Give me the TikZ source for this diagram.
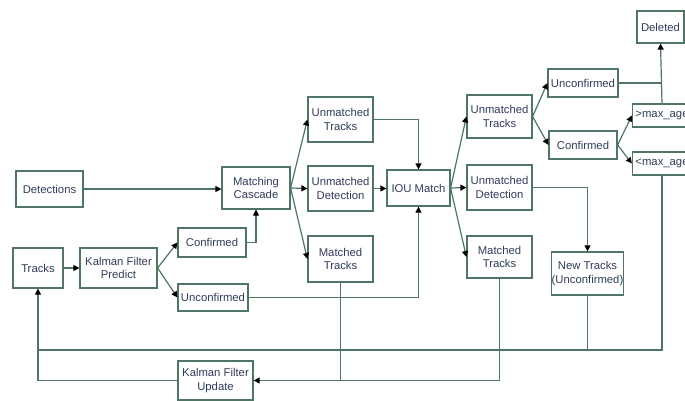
\documentclass[tikz,border=0pt]{standalone}
\usepackage{fontspec}
\setmainfont{Liberation Sans}
\usetikzlibrary{arrows.meta}
\definecolor{edge}{RGB}{78,118,98}
\definecolor{label}{RGB}{48,60,92}
\tikzset{
  box/.style={draw=edge, line width=1.2pt, fill=white, inner sep=0pt,
    align=center, text=label, font=\fontsize{11.3}{13.5}\selectfont},
  link/.style={draw=edge, line width=1.2pt},
  flow/.style={link, -{Triangle[length=6pt,width=6pt,color=black]}},
}
\begin{document}
\begin{tikzpicture}[x=1pt,y=-1pt]
\fill[white] (0,0) rectangle (685,401);
\useasboundingbox (0,0) rectangle (685,401);
\clip (0,0) rectangle (685,401);

% stage 1: prediction and matching cascade
\node[box, minimum width=67pt, minimum height=36pt] (det) at (49.5,189) {Detections};
\node[box, minimum width=50pt, minimum height=40pt] (tracks) at (38,268) {Tracks};
\node[box, minimum width=77pt, minimum height=40pt] (kfp) at (118.5,268) {Kalman Filter\\Predict};
\node[box, minimum width=68pt, minimum height=29pt] (conf1) at (212,242.5) {Confirmed};
\node[box, minimum width=70pt, minimum height=27pt] (unconf1) at (213,297.5) {Unconfirmed};
\node[box, minimum width=68pt, minimum height=42pt] (mc) at (256,188) {Matching\\Cascade};
\node[box, minimum width=65pt, minimum height=45pt] (umt1) at (340.5,119.5) {Unmatched\\Tracks};
\node[box, minimum width=65pt, minimum height=45pt] (umd1) at (340.5,188.5) {Unmatched\\Detection};
\node[box, minimum width=65pt, minimum height=46pt] (mt1) at (340.5,259) {Matched\\Tracks};

% stage 2: IOU matching
\node[box, minimum width=63pt, minimum height=36pt] (iou) at (418.5,188) {IOU Match};
\node[box, minimum width=65pt, minimum height=43pt] (umt2) at (499.5,116.5) {Unmatched\\Tracks};
\node[box, minimum width=65pt, minimum height=45pt] (umd2) at (499.5,187.5) {Unmatched\\Detection};
\node[box, minimum width=65pt, minimum height=42pt] (mt2) at (499.5,257) {Matched\\Tracks};

% track management
\node[box, minimum width=70pt, minimum height=28pt] (unconf2) at (583,83) {Unconfirmed};
\node[box, minimum width=68pt, minimum height=28pt] (conf2) at (583,145) {Confirmed};
\node[box, minimum width=47pt, minimum height=32pt] (del) at (660.5,27) {Deleted};
\node[box, minimum width=59pt, minimum height=23pt] (gt) at (662,115.5) {>max\_age};
\node[box, minimum width=59pt, minimum height=23pt] (lt) at (662,163.5) {<max\_age};
\node[box, minimum width=71pt, minimum height=43pt, inner xsep=0pt] (nt) at (587.5,273.5) {New Tracks\\(Unconfirmed)};
\node[box, minimum width=75pt, minimum height=39pt] (kfu) at (215.5,380.5) {Kalman Filter\\Update};

\coordinate (bus) at (38,350);

% connectors
\draw[flow] (det.east) -- (det.east -| mc.west);
\draw[flow] (tracks) -- (kfp);
\draw[flow] (kfp.east) -- (conf1.west);
\draw[flow] (kfp.east) -- (unconf1.west);
\draw[flow] (conf1.east) -| (mc.south);
\draw[flow] (unconf1.east) -| (iou.south);
\draw[flow] (mc.east) -- (umt1.west);
\draw[flow] (mc.east) -- (umd1.west);
\draw[flow] (mc.east) -- (mt1.west);
\draw[flow] (umt1.east) -| (iou.north);
\draw[flow] (umd1.east) -- (umd1.east -| iou.west);
\draw[flow] (iou.east) -- (umt2.west);
\draw[flow] (iou.east) -- (umd2.west);
\draw[flow] (iou.east) -- (mt2.west);
\draw[flow] (umt2.east) -- (unconf2.west);
\draw[flow] (umt2.east) -- (conf2.west);
\draw[flow] (conf2.east) -- (gt.west);
\draw[flow] (conf2.east) -- (lt.west);
\draw[link] (unconf2.east) -- (unconf2.east -| del.south);
\draw[flow] (gt.north) -- (del.south);
\draw[flow] (umd2.east) -| (nt.north);

% feedback loops
\draw[link] (lt.south) |- (bus);
\draw[link] (nt.south) -- (nt.south |- bus);
\draw[link] (mt1.south) -- (mt1.south |- kfu.east);
\draw[flow] (mt2.south) |- (kfu.east);
\draw[flow] (kfu.west) -| (tracks.south);
\end{tikzpicture}
\end{document}
